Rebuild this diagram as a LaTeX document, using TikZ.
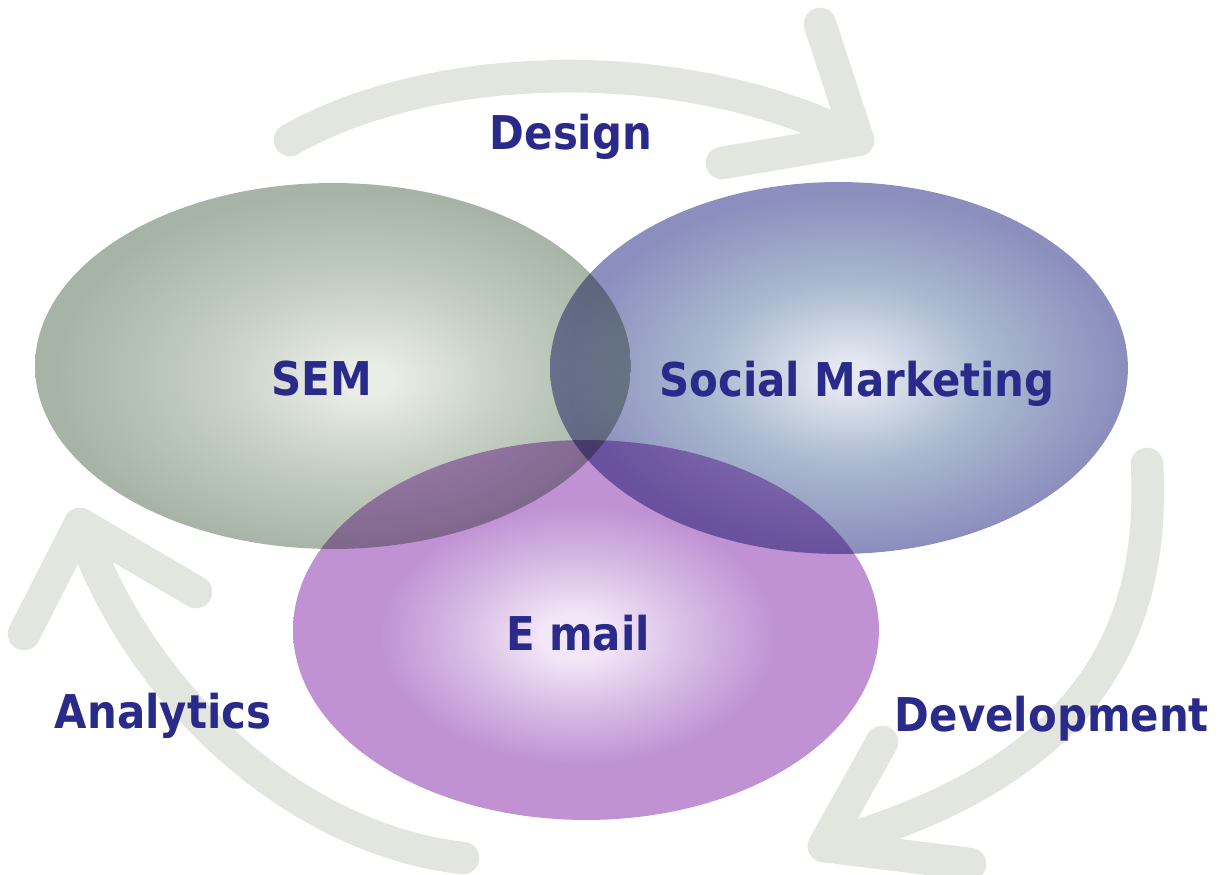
\documentclass[tikz,border=0pt]{standalone}
\usepackage{fontspec}
\setmainfont{DejaVu Sans}[FakeStretch=0.9]
\usetikzlibrary{shapes.geometric}

\definecolor{semedge}{RGB}{166,179,166}
\definecolor{semmid}{RGB}{196,206,195}
\definecolor{semlight}{RGB}{234,237,230}
\definecolor{socialedge}{RGB}{140,143,190}
\definecolor{socialmid}{RGB}{170,186,208}
\definecolor{sociallight}{RGB}{228,232,240}
\definecolor{mailedge}{RGB}{192,146,212}
\definecolor{mailmid}{RGB}{214,186,228}
\definecolor{maillight}{RGB}{242,230,247}
\definecolor{cyclegray}{RGB}{226,230,222}
\definecolor{inkblue}{RGB}{42,42,138}

% soft glow in the middle of each bubble
\pgfdeclareradialshading{semglow}{\pgfpoint{3bp}{-2bp}}{color(0bp)=(semlight); color(2bp)=(semlight); color(13bp)=(semmid); color(25bp)=(semedge); color(50bp)=(semedge)}
\pgfdeclareradialshading{socialglow}{\pgfpoint{1bp}{-1bp}}{color(0bp)=(sociallight); color(2bp)=(sociallight); color(12bp)=(socialmid); color(24bp)=(socialedge); color(50bp)=(socialedge)}
\pgfdeclareradialshading{mailglow}{\pgfpoint{-1bp}{-1bp}}{color(0bp)=(maillight); color(3bp)=(maillight); color(10bp)=(mailmid); color(17bp)=(mailedge); color(50bp)=(mailedge)}

\tikzstyle{bubble} = [ellipse, inner sep = 0pt]
\tikzstyle{word} = [text = inkblue, anchor = base, font = \bfseries\fontsize{26.5}{30}\selectfont]
\tikzstyle{cyclestroke} = [draw = cyclegray, line width = 18.5pt, line cap = round, line join = round]

\begin{document}
\begin{tikzpicture}[x = 0.02cm, y = -0.02cm]
		\fill [white] (0, 0) rectangle (1230, 875);
		\useasboundingbox (0, 0) rectangle (1230, 875);

		% arrows going round
		\coordinate (d0) at (290, 140);
		\coordinate (d1) at (858, 140);
		\coordinate (d2) at (820, 24);
		\coordinate (d3) at (722, 163);
		\draw [cyclestroke] (d0) .. controls (430, 60) and (680, 50) .. (d1);
		\draw [cyclestroke] (d2) -- (d1) -- (d3);

		\coordinate (v0) at (1147, 464);
		\coordinate (v1) at (824, 846);
		\coordinate (v2) at (882, 742);
		\coordinate (v3) at (970, 864);
		\draw [cyclestroke] (v0) .. controls (1155, 620) and (1100, 770) .. (v1);
		\draw [cyclestroke] (v2) -- (v1) -- (v3);

		\coordinate (a0) at (463, 858);
		\coordinate (a1) at (80, 524);
		\coordinate (a2) at (24, 634);
		\coordinate (a3) at (196, 592);
		\draw [cyclestroke] (a0) .. controls (300, 840) and (140, 700) .. (a1);
		\draw [cyclestroke] (a2) -- (a1) -- (a3);

		% the three bubbles
		\begin{scope}[blend group = multiply]
			\node [bubble, minimum width = 11.92cm, minimum height = 7.32cm, shading = semglow] at (333, 366) (sem) {};
			\node [bubble, minimum width = 11.56cm, minimum height = 7.44cm, shading = socialglow] at (839, 368) (social) {};
			\node [bubble, minimum width = 11.72cm, minimum height = 7.6cm, shading = mailglow] at (586, 630) (email) {};
		\end{scope}

		\node [word] at ([shift = {(-11, 29)}] sem.center) (semtext) {SEM};
		\node [word] at ([shift = {(18, 28)}] social.center) (socialtext) {Social Marketing};
		\node [word] at ([shift = {(-8, 20)}] email.center) (emailtext) {E mail};

		\node [word] at (571, 150) (design) {Design};
		\node [word] at (1052, 731) (development) {Development};
		\node [word] at (163, 728) (analytics) {Analytics};
	\end{tikzpicture}
\end{document}
